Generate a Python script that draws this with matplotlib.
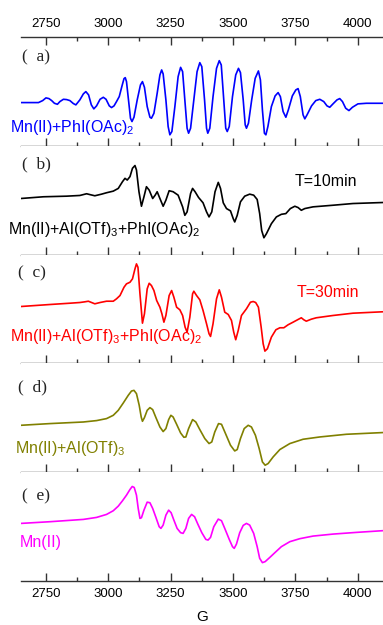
import matplotlib
matplotlib.use("Agg")
import matplotlib.pyplot as plt
from matplotlib.ticker import MultipleLocator

plt.rcParams['font.family'] = ['Liberation Sans', 'DejaVu Sans']
plt.rcParams['mathtext.fontset'] = 'custom'
plt.rcParams['mathtext.rm'] = 'Liberation Sans'
plt.rcParams['mathtext.it'] = 'Liberation Sans'

# (a) Mn(II)+PhI(OAc)2
g_a = [2650, 2720, 2737, 2750, 2762, 2773, 2784, 2796, 2806, 2820, 2833, 2846, 2860,
       2870, 2886, 2900, 2910, 2921, 2932, 2942, 2953, 2967, 2980, 2991, 3004, 3013,
       3023, 3033, 3044, 3055, 3063, 3068, 3073, 3081, 3089, 3095, 3103, 3116, 3129,
       3137, 3145, 3156, 3167, 3173, 3183, 3196, 3207, 3214, 3220, 3231, 3240, 3247,
       3255, 3267, 3280, 3290, 3298, 3308, 3316, 3322, 3330, 3343, 3356, 3367, 3375,
       3386, 3394, 3399, 3407, 3420, 3434, 3445, 3453, 3463, 3471, 3477, 3485, 3498,
       3511, 3522, 3530, 3541, 3549, 3554, 3562, 3575, 3589, 3602, 3610, 3618, 3626,
       3632, 3640, 3654, 3669, 3681, 3690, 3701, 3712, 3722, 3738, 3752, 3761, 3770,
       3781, 3788, 3797, 3815, 3832, 3848, 3864, 3877, 3888, 3901, 3917, 3928, 3939,
       3952, 3965, 3979, 4001, 4035, 4100]
s_a = [0, 0, 2, 4.7, 4, 2, -0.7, -1.7, 1, 3.3, 3, 2, -1,
       -2.3, 2.7, 8.7, 11, 7.7, -2.3, -6.3, -3.3, 3.3, 5.3, 3.3, -3.3, -5,
       -3.3, 1, 6, 16.7, 24, 25, 21, 2.7, -15.7, -19, -14.7, 2.7, 17.7,
       21, 15.3, -4, -14.7, -15.7, -10.7, 9.3, 27.7, 32.7, 28.7, 2.7, -24, -32.3,
       -29, -4, 26, 35.3, 31, -0.7, -25.7, -30.7, -25.7, 2.7, 31, 40, 36,
       2.7, -25.7, -30.7, -25.7, 6, 34.3, 42, 37.7, 2.7, -25.7, -29, -24, 6,
       27.7, 34.3, 30, 2.7, -22.3, -25.7, -20.7, 2.7, 24.3, 31.7, 22.7, -7.3, -30.7,
       -32.3, -24, -4, 6.7, 10, 6, -9, -14.7, -7.3, 6.7, 12.7, 14, 6,
       -12.3, -16.3, -12.3, -3.3, 2, 3.3, 1, -3.3, -4.7, -1.3, 2.7, 4, 1,
       -5.7, -8, -4.7, -1.3, -0.7, -0.7]

# (b) Mn(II)+Al(OTf)3+PhI(OAc)2, 10 min
g_b = [2650, 2740, 2833, 2886, 2913, 2929, 2946, 2973, 2993, 3020, 3040, 3057, 3067,
       3076, 3087, 3097, 3107, 3113, 3123, 3133, 3143, 3153, 3164, 3178, 3188, 3196,
       3207, 3220, 3231, 3244, 3260, 3280, 3298, 3307, 3316, 3330, 3338, 3348, 3362,
       3380, 3394, 3404, 3415, 3428, 3441, 3450, 3461, 3474, 3490, 3501, 3507, 3517,
       3530, 3547, 3567, 3583, 3597, 3607, 3615, 3624, 3634, 3654, 3674, 3694, 3712,
       3730, 3748, 3761, 3774, 3788, 3821, 3901, 3981, 4100]
s_b = [0, 1.7, 2.3, 3, 4.7, 3.7, 2.7, 4.3, 5.7, 7.3, 10, 16.7, 20,
       18.3, 21.7, 30, 32.7, 28.3, 6.7, -7.7, 1.7, 11.7, 8.3, 0, 3.3, 6.7,
       0, -7.7, -1.7, 7.7, 6.7, 3.3, -8.3, -16.7, -13.3, 5, 10, 6.7, 1,
       -4.3, -13.3, -18.3, -13.3, 6.7, 16, 10, -4.3, -10, -12.3, -20, -23.3, -16.7,
       -3.3, 2.3, 4.3, 3.3, -1, -15, -31.7, -39, -35, -25, -18.3, -15.7, -15,
       -10, -7.7, -9, -11.7, -10, -8.3, -6.7, -5, -4]

# (c) Mn(II)+Al(OTf)3+PhI(OAc)2, 30 min
g_c = [2650, 2766, 2846, 2886, 2906, 2920, 2933, 2946, 2967, 2993, 3020, 3033, 3047,
       3063, 3073, 3087, 3097, 3107, 3113, 3119, 3127, 3137, 3145, 3156, 3164, 3173,
       3183, 3194, 3207, 3215, 3223, 3231, 3244, 3254, 3263, 3274, 3287, 3298, 3308,
       3316, 3327, 3338, 3343, 3354, 3367, 3380, 3394, 3404, 3410, 3420, 3434, 3445,
       3454, 3467, 3481, 3494, 3503, 3511, 3521, 3534, 3554, 3570, 3581, 3591, 3602,
       3613, 3621, 3628, 3638, 3654, 3672, 3688, 3704, 3721, 3741, 3761, 3774, 3784,
       3794, 3814, 3834, 3901, 3981, 4100]
s_c = [0, 2, 3.3, 4, 4.7, 5.3, 4, 2.7, 4, 5.3, 5.3, 7.7, 11,
       19.3, 22.7, 24.3, 27.7, 37.7, 42.7, 39.3, 12.7, -16.7, -7.3, 17.7, 23.3, 21,
       16, 6, -0.7, -7.3, -15.7, -9, 11, 16, 9.3, -0.7, -3.3, -9, -20.7,
       -25.7, -10.7, 12.7, 15.3, 11, 6.7, -4, -17.3, -27.3, -30, -17.3, 7.7, 16.7,
       9.3, -5.7, -8, -14, -25.7, -33.3, -24, -9, -2.3, 4.3, 5, 4, -0.7,
       -20.7, -37.3, -44.7, -42.3, -30.7, -23.3, -21.3, -21.3, -18.3, -15.7, -13, -11.3, -13.3,
       -14.7, -12.7, -11.3, -9, -6.7, -5.3]

# (d) Mn(II)+Al(OTf)3
g_d = [2650, 2766, 2900, 2953, 2993, 3020, 3040, 3060, 3080, 3093, 3103, 3113, 3124,
       3132, 3137, 3145, 3156, 3167, 3178, 3191, 3207, 3220, 3231, 3242, 3251, 3260,
       3274, 3290, 3303, 3311, 3322, 3338, 3351, 3367, 3387, 3404, 3415, 3427, 3442,
       3454, 3470, 3490, 3507, 3517, 3530, 3545, 3561, 3574, 3590, 3605, 3618, 3629,
       3641, 3661, 3688, 3728, 3781, 3848, 3955, 4100]
s_d = [0, 1.7, 3.3, 4.7, 6.7, 10, 15, 22.3, 30, 34.3, 35, 31.7, 20,
       8.3, 4, 7.7, 15, 17.7, 15.7, 7.7, -1.7, -6.3, -3.3, 5.7, 10, 8.3,
       1, -7.7, -12, -11.7, -3.3, 5.7, 3.3, -4.3, -13.3, -18.3, -16.7, -6.7, 1.7,
       1, -8.3, -20, -25.7, -24.3, -13.3, -3.3, 0, -1.7, -10, -23.3, -36.7, -40,
       -38.3, -31.7, -24.3, -18.3, -14, -11.7, -9, -7.3]

# (e) Mn(II)
g_e = [2650, 2766, 2900, 2953, 2993, 3020, 3040, 3057, 3073, 3087, 3096, 3104, 3113,
       3120, 3127, 3133, 3143, 3156, 3167, 3178, 3191, 3204, 3211, 3220, 3231, 3242,
       3252, 3263, 3276, 3290, 3300, 3311, 3322, 3334, 3346, 3359, 3375, 3391, 3400,
       3410, 3423, 3441, 3454, 3467, 3485, 3498, 3505, 3514, 3527, 3541, 3554, 3567,
       3583, 3597, 3607, 3618, 3629, 3648, 3668, 3694, 3728, 3768, 3821, 3901, 3995, 4100]
s_e = [0, 1.7, 4, 6, 9, 12.7, 17.3, 22.7, 28.3, 34, 37, 36, 28.3,
       15, 5, 5.7, 13.3, 21.3, 20.7, 15, 6, -3.3, -5, -1.7, 8.3, 13.3,
       10.7, 3.3, -5, -9.3, -10, -5, 5, 9, 6.7, -0.7, -9.3, -16, -16.7,
       -14, -3.3, 4.3, 2.7, -5, -16, -23.3, -25, -20.7, -9.3, -2, 0, -1.7,
       -10, -23.3, -35, -39.3, -38.3, -34, -29.3, -23.3, -18.3, -15.3, -12.7, -10.7, -9, -7.3]

labels = ['Mn(II)+PhI(OAc)$_2$', 'Mn(II)+Al(OTf)$_3$+PhI(OAc)$_2$',
          'Mn(II)+Al(OTf)$_3$+PhI(OAc)$_2$', 'Mn(II)+Al(OTf)$_3$', 'Mn(II)']
tags = ['a', 'b', 'c', 'd', 'e']
times = [None, 'T=10min', 'T=30min', None, None]
colors = ['#0000ff', '#000000', '#ff0000', '#808000', '#ff00ff']
ylims = [(-43.3, 65.7), (-55.7, 52.3), (-57, 52), (-47, 62), (-57.7, 51.3)]

W, H = 383, 625
fig = plt.figure(figsize=(W / 100, H / 100), dpi=100)
gs = fig.add_gridspec(5, 1, left=21 / W, right=0.999, top=1 - 37 / H,
                      bottom=1 - 581 / H, hspace=0)

data = [(g_a, s_a), (g_b, s_b), (g_c, s_c), (g_d, s_d), (g_e, s_e)]
for i, (g, s) in enumerate(data):
    ax = fig.add_subplot(gs[i])
    ax.plot(g, s, color=colors[i], lw=1.2, solid_joinstyle='round')
    ax.set_xlim(2650, 4100)
    ax.set_ylim(*ylims[i])
    ax.set_yticks([])
    for sp in ['left', 'right']:
        ax.spines[sp].set_visible(False)
    ax.spines['top'].set_visible(i == 0)
    for sp in ['top', 'bottom']:
        ax.spines[sp].set_color('#333333')
        ax.spines[sp].set_linewidth(1.0)
    ax.xaxis.set_major_locator(MultipleLocator(250))
    ax.xaxis.set_minor_locator(MultipleLocator(125))
    ax.tick_params(axis='x', which='major', direction='in', length=6, width=1,
                   color='#333333', labelsize=9.5, pad=5)
    ax.tick_params(axis='x', which='minor', direction='in', length=3, width=1,
                   color='#333333')
    if i == 0:
        ax.tick_params(axis='x', which='both', top=True, bottom=True,
                       labeltop=True, labelbottom=False)
    elif i == 4:
        ax.tick_params(axis='x', which='both', labelbottom=True)
        ax.set_xlabel('G', fontsize=11, labelpad=7)
    else:
        ax.tick_params(axis='x', which='both', labelbottom=False)

# panel letters
tag_pos = [(22, 57), (22, 164), (18, 273), (18, 387), (22, 496)]
for t, (x, y) in zip(tags, tag_pos):
    fig.text(x / W, 1 - y / H, '(  ' + t + ')', family=['Liberation Serif'],
             fontsize=12.5, va='center', ha='left', color='#222222')

# sample names
name_pos = [(10, 127), (8, 229), (10, 337), (15, 448), (20, 543)]
for lab, c, (x, y) in zip(labels, colors, name_pos):
    fig.text(x / W, 1 - y / H, lab, color=c, fontsize=11.5, va='center', ha='left')

time_pos = [None, (295, 182), (297, 292), None, None]
for t, c, p in zip(times, colors, time_pos):
    if t:
        fig.text(p[0] / W, 1 - p[1] / H, t, color=c, fontsize=11.5,
                 va='center', ha='left')

fig.savefig('out.png', dpi=100)
